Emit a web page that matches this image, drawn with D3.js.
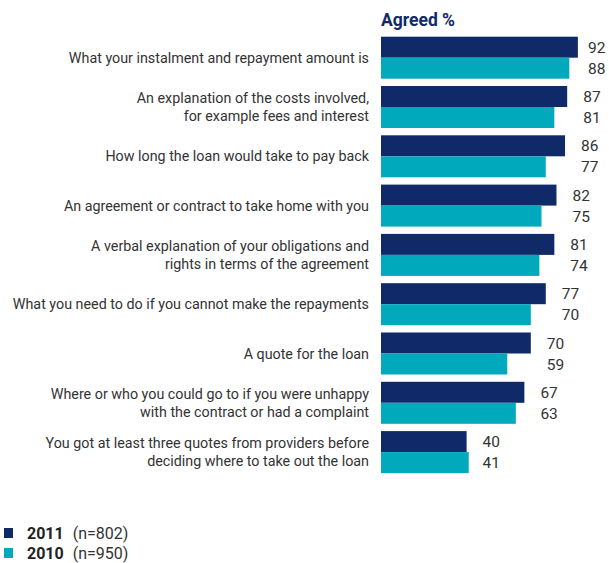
<!DOCTYPE html>
<html>
<head>
<meta charset="utf-8">
<script src="https://cdn.jsdelivr.net/npm/d3@7"></script>
<style>
  html, body { margin: 0; padding: 0; background: #fff; }
  svg { display: block; }
  text { font-family: Roboto, "Liberation Sans", sans-serif; }
</style>
</head>
<body>
<svg id="chart" width="609" height="563"></svg>
<script>
// Survey items (label lines) and agreement percentages by year
const categories = [
  ["What your instalment and repayment amount is"],
  ["An explanation of the costs involved,", "for example fees and interest"],
  ["How long the loan would take to pay back"],
  ["An agreement or contract to take home with you"],
  ["A verbal explanation of your obligations and", "rights in terms of the agreement"],
  ["What you need to do if you cannot make the repayments"],
  ["A quote for the loan"],
  ["Where or who you could go to if you were unhappy", "with the contract or had a complaint"],
  ["You got at least three quotes from providers before", "deciding where to take out the loan"]
];
const values2011 = [92, 87, 86, 82, 81, 77, 70, 67, 40];
const values2010 = [88, 81, 77, 75, 74, 70, 59, 63, 41];
const seriesNames = ["2011", "2010"];
const seriesNotes = ["(n=802)", "(n=950)"];
const title = "Agreed %";

const navy = "#102a69";
const teal = "#00a9bb";
const textColor = "#333";

const svg = d3.select("#chart");

const barLeft = 381;
const x = d3.scaleLinear().domain([0, 100]).range([barLeft, barLeft + 214]);

const y = d3.scaleBand()
  .domain(d3.range(categories.length))
  .range([36.7, 473.1])
  .paddingInner(0.148)
  .paddingOuter(0);

const sub = d3.scaleBand().domain([0, 1]).range([0, y.bandwidth()]);

const rows = categories.map((lines, i) => ({
  i, lines, v: [values2011[i], values2010[i]]
}));

const g = svg.append("g");

const row = g.selectAll("g.row").data(rows).join("g")
  .attr("class", "row")
  .attr("transform", d => `translate(0,${y(d.i)})`);

// bars
row.selectAll("rect").data(d => d.v.map((v, k) => ({ v, k }))).join("rect")
  .attr("x", x(0))
  .attr("y", d => sub(d.k))
  .attr("width", d => x(d.v) - x(0))
  .attr("height", sub.bandwidth())
  .attr("fill", d => d.k === 0 ? navy : teal);

// value labels, placed after the 2011 bar
row.each(function (d) {
  const lx = Math.min(x(d.v[0]) + 16, 588);
  d3.select(this).selectAll("text.val").data(d.v).join("text")
    .attr("class", "val")
    .attr("x", lx)
    .attr("y", (v, k) => sub(k) + sub.bandwidth() / 2)
    .attr("dy", "0.36em")
    .attr("font-size", 15.5)
    .attr("fill", textColor)
    .text(v => v);
});

// category labels
const lineH = 18.5;
row.append("text")
  .attr("class", "cat")
  .attr("text-anchor", "end")
  .attr("font-size", 14.3)
  .attr("fill", textColor)
  .selectAll("tspan").data(d => d.lines.map((t, j) => ({ t, j, n: d.lines.length }))).join("tspan")
  .attr("x", 369)
  .attr("y", d => y.bandwidth() / 2 + (d.j - (d.n - 1) / 2) * lineH)
  .attr("dy", "0.36em")
  .text(d => d.t);

// title
svg.append("text")
  .attr("x", barLeft)
  .attr("y", 26)
  .attr("font-size", 17.5)
  .attr("font-weight", "bold")
  .attr("fill", navy)
  .text(title);

// legend
const legend = svg.append("g").attr("transform", "translate(4,528)");
const li = legend.selectAll("g").data(seriesNames).join("g")
  .attr("transform", (d, k) => `translate(0,${k * 20})`);
li.append("rect").attr("width", 9).attr("height", 10)
  .attr("fill", (d, k) => k === 0 ? navy : teal);
li.append("text")
  .attr("x", 23).attr("y", 5).attr("dy", "0.36em")
  .attr("font-size", 16)
  .attr("fill", textColor)
  .call(t => t.append("tspan").attr("font-weight", "bold").attr("fill", "#222").text(d => d))
  .call(t => t.append("tspan").attr("dx", 9).text((d, k) => seriesNotes[k]));
</script>
</body>
</html>
